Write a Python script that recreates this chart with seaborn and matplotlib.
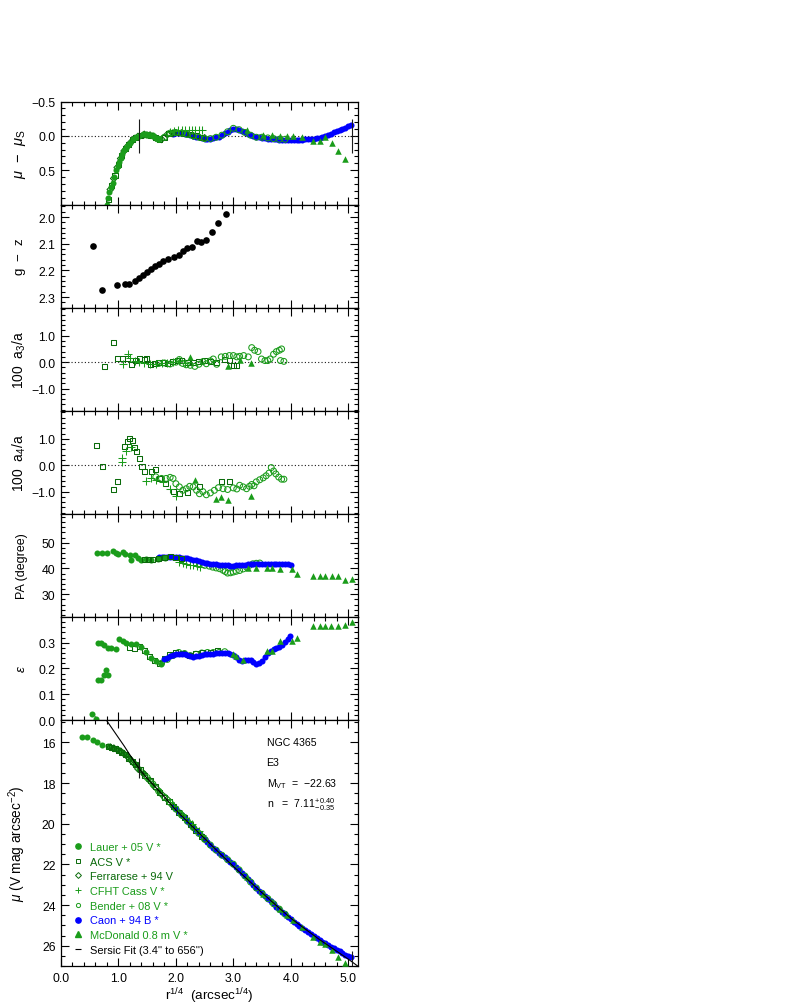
import numpy as np
import pandas as pd
import matplotlib
matplotlib.use("Agg")
import matplotlib.pyplot as plt
import seaborn as sns
from matplotlib.ticker import MultipleLocator, FixedLocator, FuncFormatter, NullFormatter
from matplotlib.lines import Line2D

# ---------------- data ----------------
# Sersic fit
fit_range_arcsec = [3.4, 656.0]
ser_x = [0.75, 0.80, 0.90, 1.00, 1.10, 1.20, 1.30, 1.40, 1.50, 1.60, 1.75, 2.00, 2.25, 2.50,
         2.75, 3.00, 3.25, 3.50, 3.75, 4.00, 4.25, 4.50, 4.75, 5.00, 5.25]
ser_mu = [14.74, 14.95, 15.36, 15.77, 16.18, 16.62, 17.05, 17.44, 17.77, 18.07, 18.52, 19.33, 20.04, 20.73,
          21.42, 22.10, 22.75, 23.40, 24.03, 24.65, 25.18, 25.70, 26.18, 26.66, 27.18]

# Caon + 94 B (profile and residuals share radii)
caon_x = [1.95, 2.00, 2.05, 2.10, 2.15, 2.20, 2.25, 2.30, 2.35, 2.40, 2.45, 2.50, 2.55, 2.60, 2.65, 2.70,
          2.75, 2.80, 2.85, 2.90, 2.95, 3.00, 3.05, 3.10, 3.15, 3.20, 3.25, 3.30, 3.35, 3.40, 3.45, 3.50,
          3.55, 3.60, 3.65, 3.70, 3.75, 3.80, 3.85, 3.90, 3.95, 4.00, 4.05, 4.10, 4.15, 4.20, 4.25, 4.30,
          4.35, 4.40, 4.45, 4.50, 4.55, 4.60, 4.65, 4.70, 4.75, 4.80, 4.85, 4.90, 4.95, 5.00, 5.05]
res_caon = [-0.03, -0.04, -0.04, -0.04, -0.03, -0.02, -0.01, 0.00, 0.01, 0.02, 0.03, 0.04, 0.04, 0.04, 0.03, 0.02,
            0.01, -0.01, -0.04, -0.06, -0.08, -0.10, -0.10, -0.08, -0.07, -0.05, -0.03, -0.01, 0.00, 0.02, 0.02, 0.03,
            0.03, 0.04, 0.04, 0.05, 0.05, 0.06, 0.06, 0.06, 0.06, 0.06, 0.06, 0.06, 0.06, 0.06, 0.05, 0.05,
            0.04, 0.04, 0.03, 0.03, 0.01, 0.00, -0.01, -0.03, -0.05, -0.07, -0.09, -0.10, -0.12, -0.14, -0.16]
mu_caon = [19.14, 19.29, 19.44, 19.58, 19.73, 19.88, 20.03, 20.18, 20.33, 20.48, 20.63, 20.77, 20.91, 21.05, 21.18, 21.30,
           21.43, 21.55, 21.66, 21.77, 21.89, 22.00, 22.13, 22.28, 22.42, 22.57, 22.72, 22.87, 23.01, 23.16, 23.29, 23.43,
           23.56, 23.69, 23.82, 23.95, 24.08, 24.21, 24.34, 24.46, 24.59, 24.71, 24.82, 24.92, 25.03, 25.13, 25.23, 25.33,
           25.43, 25.53, 25.63, 25.73, 25.81, 25.89, 25.98, 26.05, 26.13, 26.20, 26.28, 26.36, 26.44, 26.51, 26.58]

# Lauer + 05 V
res_lauer_x = [0.80, 0.82, 0.84, 0.87, 0.90, 0.93, 0.96, 0.99, 1.01, 1.04, 1.07, 1.10, 1.13, 1.16, 1.20, 1.25,
               1.30, 1.36, 1.42, 1.48, 1.54, 1.60, 1.66, 1.71]
res_lauer = [1.00, 0.90, 0.81, 0.75, 0.69, 0.60, 0.50, 0.44, 0.38, 0.32, 0.26, 0.21, 0.17, 0.14, 0.10, 0.05,
             0.02, 0.00, -0.02, -0.02, -0.01, 0.00, 0.03, 0.05]
mu_lauer_x = [0.37, 0.45, 0.55, 0.63, 0.72, 0.81, 0.90, 0.98, 1.07, 1.13, 1.20, 1.28, 1.35, 1.42, 1.51, 1.60, 1.70]
mu_lauer = [15.75, 15.75, 15.87, 16.00, 16.12, 16.20, 16.26, 16.35, 16.48, 16.62, 16.82, 17.06, 17.31, 17.52, 17.80, 18.08, 18.38]

# ACS V
acs_x = [0.82, 0.88, 0.94, 1.00, 1.06, 1.12, 1.18, 1.24, 1.30, 1.38, 1.46, 1.55, 1.64, 1.72, 1.80, 1.88,
         1.96, 2.05, 2.15, 2.25, 2.35, 2.45]
res_acs = [0.92, 0.72, 0.57, 0.41, 0.28, 0.18, 0.12, 0.06, 0.02, -0.01, -0.02, -0.01, 0.02, 0.05, 0.02, -0.03,
           -0.05, -0.05, -0.04, -0.02, 0.00, 0.02]
mu_acs = [16.21, 16.25, 16.30, 16.39, 16.51, 16.60, 16.80, 16.95, 17.10, 17.35, 17.65, 17.89, 18.19, 18.45, 18.69, 18.90,
          19.15, 19.43, 19.72, 20.02, 20.32, 20.62]

# Ferrarese + 94 V
ferr_x = [0.86, 0.92, 0.98, 1.04, 1.10, 1.16, 1.22, 1.28, 1.34, 1.45, 1.55, 1.65, 1.75, 1.85, 1.95, 2.10, 2.30, 2.50]
res_ferr = [0.78, 0.62, 0.46, 0.33, 0.22, 0.15, 0.09, 0.04, 0.01, -0.02, -0.01, 0.03, 0.05, -0.02, -0.04, -0.04, 0.00, 0.03]
mu_ferr = [16.24, 16.29, 16.36, 16.44, 16.57, 16.70, 16.89, 17.06, 17.30, 17.56, 17.89, 18.23, 18.55, 18.80, 19.13, 19.58,
           20.18, 20.76]

# CFHT Cass V
cfht_x = [1.90, 1.97, 2.04, 2.10, 2.16, 2.22, 2.28, 2.34, 2.40, 2.46]
res_cfht = [-0.05, -0.07, -0.08, -0.09, -0.09, -0.09, -0.09, -0.09, -0.08, -0.08]
mu_cfht = [18.95, 19.15, 19.36, 19.53, 19.71, 19.87, 20.03, 20.20, 20.38, 20.57]

# Bender + 08 V
bender_x = [1.5, 1.6, 1.7, 1.8, 1.9, 2.0, 2.1, 2.2, 2.3, 2.4, 2.5, 2.6, 2.7, 2.8, 2.9, 3.0, 3.1, 3.2, 3.3,
            3.4, 3.5, 3.6, 3.7, 3.8, 3.9]
res_bender = [-0.01, 0.00, 0.05, 0.02, -0.04, -0.05, -0.04, -0.02, 0.00, 0.02, 0.04, 0.04, 0.02, -0.01, -0.06,
              -0.11, -0.09, -0.05, -0.01, 0.02, 0.02, 0.03, 0.04, 0.05, 0.05]
mu_bender = [17.73, 18.05, 18.40, 18.69, 18.96, 19.28, 19.58, 19.88, 20.18, 20.48, 20.77, 21.05, 21.30, 21.55, 21.77,
             21.99, 22.27, 22.57, 22.87, 23.16, 23.42, 23.68, 23.94, 24.20, 24.45]

# McDonald 0.8 m V
mcd_x = [3.23, 3.52, 3.67, 3.81, 3.93, 4.04, 4.19, 4.39, 4.51, 4.60, 4.72, 4.83, 4.94]
res_mcd = [-0.08, -0.01, -0.01, 0.00, 0.00, 0.00, 0.01, 0.08, 0.08, 0.01, 0.10, 0.22, 0.33]
mu_mcd = [22.60, 23.44, 23.82, 24.18, 24.48, 24.74, 25.06, 25.55, 25.80, 25.90, 26.22, 26.55, 26.87]

# g - z colour
gz_x = [0.55, 0.72, 0.97, 1.11, 1.19, 1.28, 1.35, 1.43, 1.50, 1.57, 1.63, 1.71, 1.78, 1.87, 1.96, 2.05, 2.12,
        2.20, 2.28, 2.37, 2.44, 2.53, 2.63, 2.74, 2.88]
gz = [2.109, 2.275, 2.256, 2.250, 2.252, 2.238, 2.229, 2.218, 2.205, 2.193, 2.183, 2.175, 2.163, 2.157, 2.150,
      2.141, 2.129, 2.116, 2.113, 2.089, 2.095, 2.086, 2.054, 2.021, 1.990]

# 100 a3/a
a3_acs_x = [0.75, 0.91, 0.98, 1.07, 1.16, 1.22, 1.30, 1.37, 1.45, 1.49, 1.55, 1.62, 1.70, 1.78, 1.86, 1.94, 2.02,
            2.10, 2.20, 2.30, 2.40, 2.50, 2.60, 2.70, 2.85, 2.94, 3.00, 3.05]
a3_acs = [-0.15, 0.75, 0.12, 0.15, 0.12, -0.08, 0.05, 0.12, 0.10, 0.15, -0.10, -0.05, -0.02, 0.00, -0.05, 0.02,
          0.05, 0.08, 0.00, -0.03, 0.02, 0.06, 0.02, 0.00, 0.10, 0.08, -0.12, -0.12]
a3_cfht_x = [1.08, 1.16, 1.20, 1.28, 1.36, 1.45, 1.55, 1.65, 1.75, 1.85, 1.95, 2.05, 2.15]
a3_cfht = [-0.08, 0.30, 0.15, 0.05, 0.02, -0.05, -0.08, -0.06, -0.05, -0.04, 0.00, 0.03, -0.02]
a3_bender_x = [1.70, 1.80, 1.90, 2.00, 2.06, 2.12, 2.18, 2.25, 2.33, 2.40, 2.47, 2.53, 2.60, 2.65, 2.71, 2.79,
               2.86, 2.93, 3.00, 3.06, 3.11, 3.18, 3.26, 3.32, 3.37, 3.43, 3.49, 3.55, 3.60, 3.64, 3.70, 3.75,
               3.80, 3.84, 3.82, 3.88]
a3_bender = [-0.05, -0.03, -0.07, 0.00, 0.10, -0.05, -0.10, -0.12, -0.16, -0.08, 0.02, -0.06, 0.05, 0.12, -0.08,
             0.20, 0.22, 0.25, 0.25, 0.20, 0.22, 0.25, 0.20, 0.55, 0.45, 0.40, 0.12, 0.06, 0.06, 0.12, 0.30, 0.40,
             0.45, 0.50, 0.06, 0.03]
a3_mcd_x = [2.25, 2.91, 3.12, 3.30]
a3_mcd = [0.20, -0.15, 0.08, -0.04]

# 100 a4/a
a4_acs_x = [0.61, 0.72, 0.91, 0.98, 1.10, 1.16, 1.20, 1.25, 1.28, 1.32, 1.36, 1.41, 1.45, 1.57, 1.65, 1.72,
            1.82, 1.95, 2.06, 2.21, 2.41, 2.79, 2.94]
a4_acs = [0.75, -0.05, -0.91, -0.63, 0.72, 0.89, 1.02, 0.94, 0.66, 0.53, 0.27, -0.05, -0.24, -0.24, -0.18,
          -0.50, -0.70, -0.98, -1.08, -1.04, -0.82, -0.63, -0.60]
a4_cfht_x = [1.06, 1.07, 1.13, 1.22, 1.48, 1.57, 1.65, 1.77, 1.89, 2.00]
a4_cfht = [0.14, 0.27, 0.53, 0.68, -0.60, -0.50, -0.57, -0.63, -0.89, -1.15]
a4_bender_x = [1.65, 1.75, 1.83, 1.90, 1.95, 2.00, 2.06, 2.12, 2.18, 2.24, 2.30, 2.36, 2.41, 2.47, 2.53, 2.60,
               2.67, 2.74, 2.82, 2.90, 3.00, 3.06, 3.11, 3.17, 3.23, 3.28, 3.32, 3.36, 3.40, 3.46, 3.52, 3.57,
               3.62, 3.66, 3.70, 3.74, 3.79, 3.84, 3.88]
a4_bender = [-0.44, -0.50, -0.50, -0.46, -0.50, -0.70, -0.82, -0.95, -0.89, -0.80, -0.82, -0.95, -1.08, -1.00,
             -1.12, -1.05, -0.95, -0.85, -0.89, -0.92, -0.86, -0.90, -0.76, -0.82, -0.89, -0.80, -0.73, -0.78,
             -0.63, -0.55, -0.48, -0.40, -0.30, -0.09, -0.22, -0.33, -0.45, -0.53, -0.53]
a4_mcd_x = [2.34, 2.69, 2.79, 2.91, 3.30]
a4_mcd = [-0.57, -1.27, -1.21, -1.31, -1.17]

# PA (degree)
pa_lauer_x = [0.63, 0.71, 0.80, 0.90, 0.95, 1.00, 1.08, 1.12, 1.20, 1.22, 1.28, 1.34, 1.40, 1.48, 1.57, 1.69, 1.81]
pa_lauer = [46.1, 46.1, 46.1, 46.6, 46.1, 45.7, 46.4, 45.7, 45.1, 43.4, 45.1, 44.0, 43.4, 43.5, 43.4, 43.8, 44.0]
pa_acs_x = [1.45, 1.52, 1.60, 1.70, 1.80, 1.90, 2.00, 2.10]
pa_acs = [43.4, 43.6, 43.6, 43.8, 44.2, 44.5, 44.3, 44.0]
pa_cfht_x = [2.06, 2.12, 2.18, 2.24, 2.30, 2.36, 2.42]
pa_cfht = [42.5, 42.2, 41.8, 41.5, 41.2, 40.8, 40.5]
pa_bender_x = [2.41, 2.50, 2.58, 2.64, 2.70, 2.76, 2.82, 2.86, 2.90, 2.95, 3.00, 3.05, 3.11, 3.17, 3.23, 3.28,
               3.34, 3.40, 3.46]
pa_bender = [41.8, 41.2, 40.9, 40.5, 40.2, 39.9, 39.3, 38.8, 38.2, 38.3, 38.6, 38.9, 39.2, 39.8, 40.5, 41.2,
             41.8, 42.0, 42.1]
pa_caon_x = [1.70, 1.75, 1.80, 1.85, 1.90, 1.95, 2.00, 2.05, 2.10, 2.15, 2.20, 2.25, 2.30, 2.35, 2.40, 2.45,
             2.50, 2.55, 2.60, 2.65, 2.70, 2.75, 2.80, 2.85, 2.90, 2.95, 3.00, 3.05, 3.10, 3.15, 3.20, 3.25,
             3.30, 3.35, 3.40, 3.45, 3.50, 3.55, 3.60, 3.65, 3.70, 3.75, 3.80, 3.85, 3.90, 3.95, 4.00]
pa_caon = [44.3, 44.4, 44.4, 44.4, 44.4, 44.4, 44.4, 44.3, 44.2, 44.1, 43.9, 43.7, 43.4, 43.1, 42.8, 42.6,
           42.3, 42.1, 41.9, 41.8, 41.6, 41.4, 41.3, 41.2, 41.2, 41.1, 41.1, 41.2, 41.2, 41.4, 41.5, 41.6,
           41.7, 41.7, 41.7, 41.7, 41.7, 41.7, 41.7, 41.6, 41.6, 41.6, 41.6, 41.6, 41.6, 41.6, 41.5]
pa_mcd_x = [3.26, 3.40, 3.58, 3.67, 3.81, 4.02, 4.10, 4.39, 4.50, 4.60, 4.71, 4.83, 4.94, 5.07]
pa_mcd = [40.1, 40.1, 40.3, 40.3, 39.6, 39.6, 37.7, 37.0, 37.0, 37.0, 37.0, 37.0, 35.6, 36.0]

# ellipticity
eps_lauer_x = [0.54, 0.61, 0.64, 0.69, 0.75, 0.78, 0.81, 0.64, 0.69, 0.75, 0.81, 0.87, 0.96, 1.01, 1.08, 1.14,
               1.22, 1.31, 1.39, 1.48, 1.57, 1.65, 1.74]
eps_lauer = [0.025, 0.005, 0.157, 0.157, 0.173, 0.193, 0.173, 0.300, 0.300, 0.290, 0.280, 0.280, 0.275, 0.315,
             0.307, 0.300, 0.294, 0.294, 0.284, 0.265, 0.241, 0.228, 0.219]
eps_acs_x = [1.19, 1.28, 1.37, 1.46, 1.54, 1.62, 1.71, 1.80, 1.89, 2.00, 2.12, 2.24, 2.35, 2.47, 2.60, 2.73]
eps_acs = [0.280, 0.278, 0.287, 0.271, 0.245, 0.229, 0.219, 0.239, 0.254, 0.262, 0.258, 0.252, 0.258, 0.262,
           0.262, 0.271]
eps_bender_x = [1.75, 1.85, 1.95, 2.05, 2.15, 2.25, 2.35, 2.45, 2.55, 2.65, 2.75, 2.85]
eps_bender = [0.220, 0.235, 0.250, 0.262, 0.258, 0.250, 0.255, 0.260, 0.262, 0.262, 0.262, 0.265]
eps_caon_x = [1.80, 1.85, 1.90, 1.95, 2.00, 2.05, 2.10, 2.15, 2.20, 2.25, 2.30, 2.35, 2.40, 2.45, 2.50, 2.55,
              2.60, 2.65, 2.70, 2.75, 2.80, 2.85, 2.90, 2.95, 3.00, 3.05, 3.10, 3.15, 3.20, 3.25, 3.30, 3.35,
              3.40, 3.45, 3.50, 3.55, 3.60, 3.65, 3.70, 3.75, 3.80, 3.85, 3.90, 3.95, 3.98]
eps_caon = [0.236, 0.242, 0.248, 0.253, 0.256, 0.258, 0.257, 0.255, 0.252, 0.248, 0.246, 0.247, 0.250, 0.253,
            0.255, 0.256, 0.257, 0.258, 0.259, 0.260, 0.260, 0.261, 0.260, 0.257, 0.252, 0.243, 0.234, 0.229,
            0.232, 0.234, 0.231, 0.225, 0.219, 0.220, 0.230, 0.245, 0.260, 0.268, 0.274, 0.279, 0.284, 0.292,
            0.302, 0.314, 0.326]
eps_mcd_x = [3.00, 3.05, 3.17, 3.58, 3.67, 3.81, 4.02, 4.10, 4.39, 4.50, 4.60, 4.70, 4.82, 4.94, 5.07]
eps_mcd = [0.258, 0.249, 0.232, 0.267, 0.267, 0.307, 0.307, 0.317, 0.364, 0.364, 0.364, 0.364, 0.366, 0.370, 0.379]

legend_labels = ["Lauer + 05 V *", "ACS V *", "Ferrarese + 94 V", "CFHT Cass V *", "Bender + 08 V *",
                 "Caon + 94 B *", "McDonald 0.8 m V *", "Sersic Fit (3.4'' to 656'')"]
info_lines = ["NGC 4365", "E3", r"M$_{\rm VT}$  =  $-$22.63", r"n   =  7.11$^{+\,0.40}_{-\,0.35}$"]

# ---------------- styling ----------------
sns.set_theme(style="ticks")
plt.rcParams["font.family"] = ["Liberation Sans", "DejaVu Sans"]
plt.rcParams["mathtext.fontset"] = "custom"
plt.rcParams["mathtext.rm"] = "Liberation Sans"
plt.rcParams["mathtext.it"] = "Liberation Sans:italic"
plt.rcParams["mathtext.bf"] = "Liberation Sans:bold"
plt.rcParams["axes.unicode_minus"] = True

GREEN = "#1a9c1a"
DKGREEN = "#0a6a0a"
BLUE = "#0000ff"

STY = {
    "lauer": dict(marker="o", color=GREEN, fill=True, s=19),
    "acs": dict(marker="s", color=DKGREEN, fill=False, s=13),
    "ferr": dict(marker="D", color=DKGREEN, fill=False, s=12),
    "cfht": dict(marker="+", color=GREEN, fill=None, s=28),
    "bender": dict(marker="o", color=GREEN, fill=False, s=18),
    "caon": dict(marker="o", color=BLUE, fill=True, s=19),
    "mcd": dict(marker="^", color=GREEN, fill=True, s=22),
    "gz": dict(marker="o", color="black", fill=True, s=23),
}


def draw(ax, x, y, key, z=3):
    st = STY[key]
    df = pd.DataFrame({"x": x, "y": y})
    if st["fill"] is True:
        sns.scatterplot(data=df, x="x", y="y", ax=ax, marker=st["marker"], color=st["color"],
                        s=st["s"], linewidth=0, legend=False, zorder=z)
    elif st["fill"] is False:
        sns.scatterplot(data=df, x="x", y="y", ax=ax, marker=st["marker"], facecolor="none",
                        edgecolor=st["color"], s=st["s"], linewidth=0.75, legend=False, zorder=z)
    else:
        sns.scatterplot(data=df, x="x", y="y", ax=ax, marker=st["marker"], color=st["color"],
                        s=st["s"], linewidth=0.75, legend=False, zorder=z)


def fmt1(v, p):
    s = f"{v:.1f}"
    if s == "-0.0":
        s = "0.0"
    return s.replace("-", "\u2212")


def fmt0(v, p):
    return f"{v:.0f}"


W, H = 795, 1004
fig = plt.figure(figsize=(W / 100, H / 100), dpi=100)
bounds = [102.5, 205.6, 308.7, 411.8, 514.8, 617.9, 721.0, 967.0]
left, width = 61 / W, 297 / W
axes = []
for i in range(7):
    b = 1 - bounds[i + 1] / H
    h = (bounds[i + 1] - bounds[i]) / H
    axes.append(fig.add_axes([left, b, width, h]))

TICK_FS = 8.8

panel_cfg = [
    dict(ylim=(1.0, -0.5), ticks=[-0.5, 0.0, 0.5], minor=0.1, fmt=fmt1,
         label=r"$\mu$  $-$  $\mu_{\rm S}$", lfs=10.5),
    dict(ylim=(2.34, 1.953), ticks=[2.0, 2.1, 2.2, 2.3], minor=0.02, fmt=fmt1, label="g  $-$  z", lfs=9.6),
    dict(ylim=(-1.84, 2.06), ticks=[-1.0, 0.0, 1.0], minor=0.2, fmt=fmt1, label=r"100  a$_3$/a", lfs=10.0),
    dict(ylim=(-1.84, 2.06), ticks=[-1.0, 0.0, 1.0], minor=0.2, fmt=fmt1, label=r"100  a$_4$/a", lfs=10.0),
    dict(ylim=(21.2, 61.2), ticks=[30, 40, 50], minor=2, fmt=fmt0, label="PA (degree)", lfs=9.0),
    dict(ylim=(0.0, 0.4), ticks=[0.0, 0.1, 0.2, 0.3], minor=0.02, fmt=fmt1, label=r"$\epsilon$", lfs=9.6),
    dict(ylim=(27.0, 14.9), ticks=[16, 18, 20, 22, 24, 26], minor=0.5, fmt=fmt0,
         label=r"$\mu$ (V mag arcsec$^{-2}$)", lfs=9.8),
]

fit_x = np.array(fit_range_arcsec) ** 0.25

# ---- panel 1: residuals
ax = axes[0]
ax.axhline(0, color="k", lw=0.8, ls=(0, (1, 2)), zorder=1)
draw(ax, caon_x, res_caon, "caon", 2)
draw(ax, acs_x, res_acs, "acs")
draw(ax, ferr_x, res_ferr, "ferr")
draw(ax, res_lauer_x, res_lauer, "lauer")
draw(ax, bender_x, res_bender, "bender")
draw(ax, cfht_x, res_cfht, "cfht")
draw(ax, mcd_x, res_mcd, "mcd")
ax.vlines(fit_x, -0.25, 0.25, color="k", lw=0.8, zorder=4)

# ---- panel 2: g - z
ax = axes[1]
draw(ax, gz_x, gz, "gz")

# ---- panel 3: a3
ax = axes[2]
ax.axhline(0, color="k", lw=0.8, ls=(0, (1, 2)), zorder=1)
draw(ax, a3_acs_x, a3_acs, "acs")
draw(ax, a3_cfht_x, a3_cfht, "cfht")
draw(ax, a3_bender_x, a3_bender, "bender")
draw(ax, a3_mcd_x, a3_mcd, "mcd")

# ---- panel 4: a4
ax = axes[3]
ax.axhline(0, color="k", lw=0.8, ls=(0, (1, 2)), zorder=1)
draw(ax, a4_acs_x, a4_acs, "acs")
draw(ax, a4_cfht_x, a4_cfht, "cfht")
draw(ax, a4_bender_x, a4_bender, "bender")
draw(ax, a4_mcd_x, a4_mcd, "mcd")

# ---- panel 5: PA
ax = axes[4]
draw(ax, pa_bender_x, pa_bender, "bender")
draw(ax, pa_cfht_x, pa_cfht, "cfht")
draw(ax, pa_caon_x, pa_caon, "caon")
draw(ax, pa_lauer_x, pa_lauer, "lauer")
draw(ax, pa_acs_x, pa_acs, "acs")
draw(ax, pa_mcd_x, pa_mcd, "mcd")

# ---- panel 6: ellipticity
ax = axes[5]
draw(ax, eps_bender_x, eps_bender, "bender")
draw(ax, eps_acs_x, eps_acs, "acs")
draw(ax, eps_caon_x, eps_caon, "caon")
draw(ax, eps_lauer_x, eps_lauer, "lauer")
draw(ax, eps_mcd_x, eps_mcd, "mcd")

# ---- panel 7: surface brightness
ax = axes[6]
draw(ax, caon_x, mu_caon, "caon", 2)
draw(ax, mu_lauer_x, mu_lauer, "lauer")
draw(ax, acs_x, mu_acs, "acs")
draw(ax, ferr_x, mu_ferr, "ferr")
draw(ax, bender_x, mu_bender, "bender")
draw(ax, cfht_x, mu_cfht, "cfht")
draw(ax, mcd_x, mu_mcd, "mcd")
sns.lineplot(x=ser_x, y=ser_mu, ax=ax, color="black", lw=0.8, sort=False, estimator=None, zorder=5)
ser_at_fit = np.interp(fit_x, ser_x, ser_mu)
ax.vlines(fit_x, ser_at_fit - 0.5, ser_at_fit + 0.5, color="k", lw=0.8, zorder=5)

for k, line in enumerate(info_lines):
    ax.text(0.692, 0.912 - k * 0.084, line, transform=ax.transAxes, fontsize=7.6,
            va="center", ha="left", color="black")

handles = []
for key in ["lauer", "acs", "ferr", "cfht", "bender", "caon", "mcd"]:
    st = STY[key]
    if st["fill"] is True:
        h = Line2D([], [], ls="none", marker=st["marker"], markerfacecolor=st["color"],
                   markeredgecolor=st["color"], markersize=3.8)
    elif st["fill"] is False:
        h = Line2D([], [], ls="none", marker=st["marker"], markerfacecolor="none",
                   markeredgecolor=st["color"], markersize=3.0, markeredgewidth=0.7)
    else:
        h = Line2D([], [], ls="none", marker=st["marker"], color=st["color"], markersize=4.8,
                   markeredgewidth=0.7)
    handles.append(h)
handles.append(Line2D([], [], ls="none", marker="_", color="black", markersize=4, markeredgewidth=0.8))
leg = ax.legend(handles, legend_labels, loc="lower left", bbox_to_anchor=(0.045, 0.045),
                frameon=False, fontsize=7.9, handlelength=0.6, handletextpad=0.8,
                labelspacing=0.43, borderpad=0, borderaxespad=0)
text_colors = [GREEN, DKGREEN, DKGREEN, GREEN, GREEN, BLUE, GREEN, "black"]
for t, c in zip(leg.get_texts(), text_colors):
    t.set_color(c)

# ---- common axes formatting
for i, (ax, cfg) in enumerate(zip(axes, panel_cfg)):
    ax.set_xlim(0, 5.17)
    ax.set_ylim(*cfg["ylim"])
    ax.yaxis.set_major_locator(FixedLocator(cfg["ticks"]))
    ax.yaxis.set_major_formatter(FuncFormatter(cfg["fmt"]))
    ax.yaxis.set_minor_locator(MultipleLocator(cfg["minor"]))
    ax.xaxis.set_major_locator(FixedLocator([0, 1, 2, 3, 4, 5]))
    ax.xaxis.set_minor_locator(MultipleLocator(0.2))
    ax.tick_params(which="both", direction="in", top=True, right=True, colors="black",
                   labelsize=TICK_FS, pad=4)
    ax.tick_params(which="major", length=5.5, width=0.8)
    ax.tick_params(which="minor", length=3, width=0.8)
    for sp in ax.spines.values():
        sp.set_color("black")
        sp.set_linewidth(0.9)
    ax.set_ylabel(cfg["label"], fontsize=cfg["lfs"], color="black")
    ax.yaxis.set_label_coords(-0.112, 0.5)
    ax.set_xlabel("")
    if i < 6:
        ax.xaxis.set_major_formatter(NullFormatter())
    else:
        ax.xaxis.set_major_formatter(FuncFormatter(fmt1))
        ax.set_xlabel(r"r$^{1/4}$  (arcsec$^{1/4}$)", fontsize=9.6, color="black", labelpad=1)

fig.savefig("out.png", dpi=100, facecolor="white")
